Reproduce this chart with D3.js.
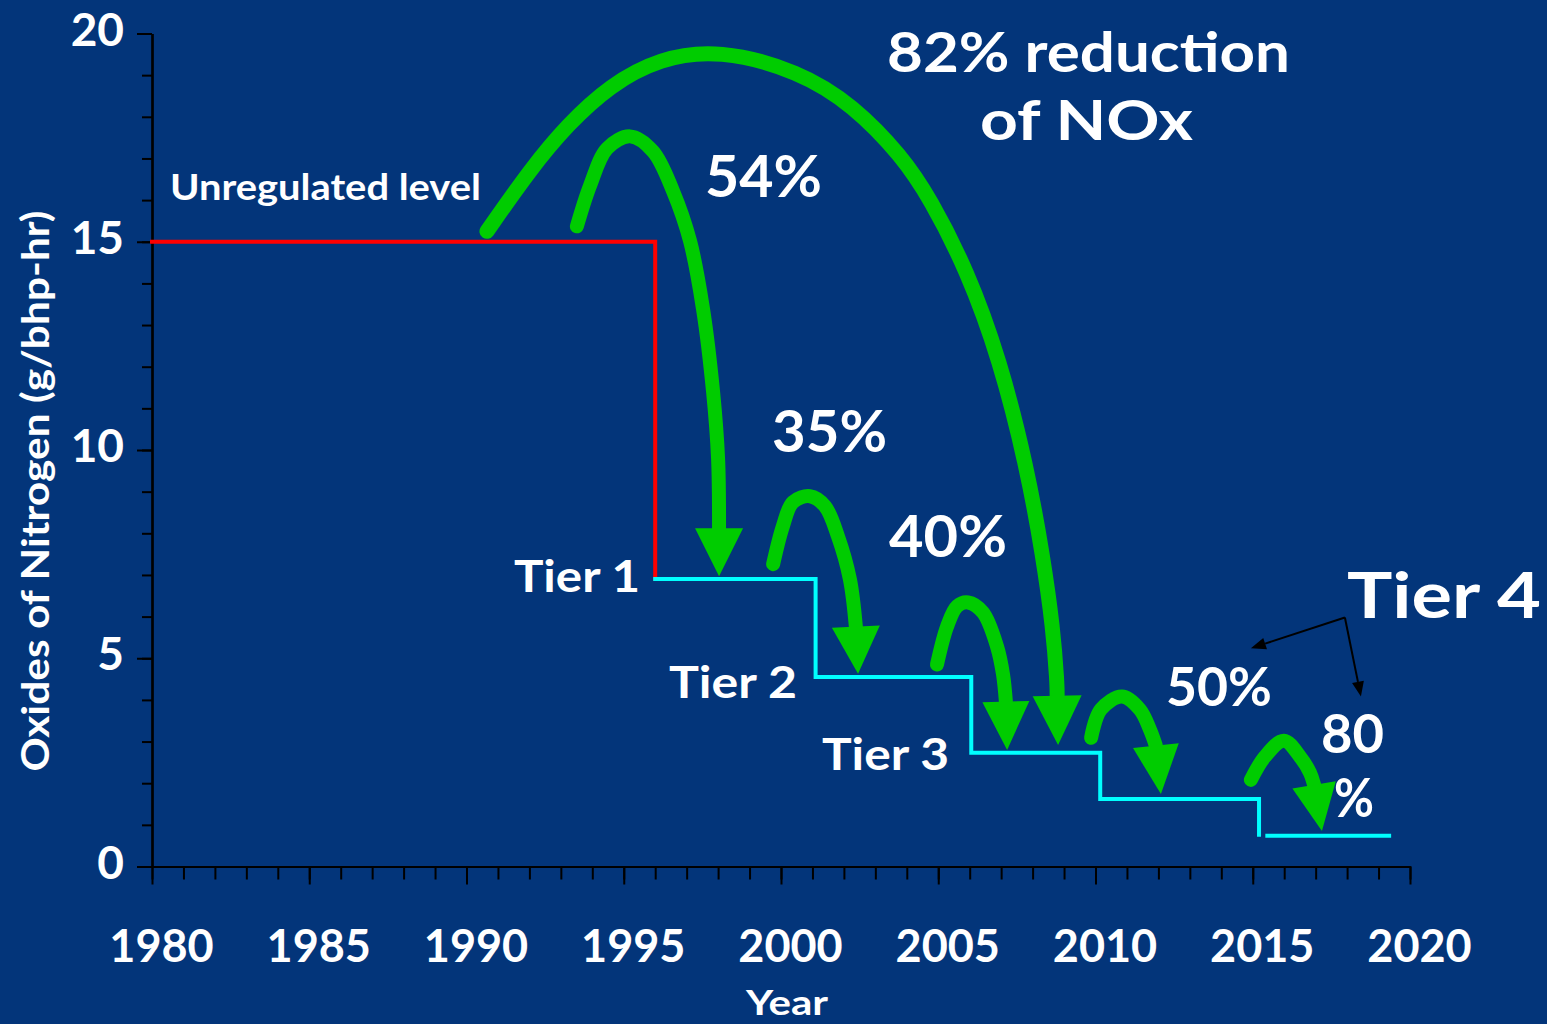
<!DOCTYPE html>
<html>
<head>
<meta charset="utf-8">
<script src="https://cdn.jsdelivr.net/npm/d3@7"></script>
<style>
  html, body { margin: 0; padding: 0; background: #03357a; }
  svg { display: block; }
  text { font-family: "Comic Sans MS", "Lato", "DejaVu Sans", sans-serif; font-weight: 700; fill: #ffffff; }
</style>
</head>
<body>
<svg id="chart" width="1547" height="1024"></svg>
<script>
// ---------- data ----------
const xTickYears = [1980, 1985, 1990, 1995, 2000, 2005, 2010, 2015, 2020];
const xMinorYears = d3.range(1980, 2021, 1);
const yTickValues = [0, 5, 10, 15, 20];
const yMinorValues = d3.range(0, 21, 1);

// unregulated level (red step)
const unregulatedYears = [1980, 1996, 1996];
const unregulatedNOx   = [15, 15, 6.9];

// tier standards (cyan steps)
const tierYears = [1996, 2001.1, 2001.1, 2006.05, 2006.05, 2010.15, 2010.15, 2015.2, 2015.2];
const tierNOx   = [6.9, 6.9, 4.55, 4.55, 2.73, 2.73, 1.62, 1.62, 0.76];
const tier4Years = [2015.4, 2019.4];
const tier4NOx   = [0.74, 0.74];

// green reduction arrows: shaft points (year, NOx) and tip
const arrow82Years = [1990.65, 1992.05, 1993.2, 1994.56, 1996.15, 1998.03, 2000.57, 2002.29, 2003.85, 2004.74, 2005.91, 2006.96, 2007.82, 2008.33, 2008.65, 2008.78, 2008.78];
const arrow82NOx   = [15.25, 16.76, 17.80, 18.76, 19.41, 19.62, 19.10, 18.28, 17.05, 16.04, 14.33, 12.17, 9.59, 7.45, 5.72, 4.40, 4.10];
const arrow82Tip   = [2008.81, 2.92];

const arrow54Years = [1993.51, 1993.93, 1994.47, 1995.2, 1995.93, 1996.57, 1997.11, 1997.52, 1997.84, 1998.0, 1998.03];
const arrow54NOx   = [15.37, 16.35, 17.24, 17.53, 17.17, 16.21, 15.01, 13.39, 11.40, 9.78, 8.12];
const arrow54Tip   = [1998.03, 6.97];

const arrow35Years = [1999.75, 2000.06, 2000.38, 2000.92, 2001.4, 2001.81, 2002.19, 2002.38];
const arrow35NOx   = [7.26, 8.17, 8.75, 8.89, 8.65, 7.93, 6.90, 5.76];
const arrow35Tip   = [2002.45, 4.63];

const arrow40Years = [2004.96, 2005.28, 2005.6, 2005.95, 2006.42, 2006.87, 2007.06, 2007.15];
const arrow40NOx   = [4.85, 5.76, 6.25, 6.34, 6.10, 5.28, 4.61, 3.96];
const arrow40Tip   = [2007.19, 2.80];

const arrow50Years = [2009.86, 2010.17, 2010.84, 2011.41, 2011.73, 2011.92];
const arrow50NOx   = [3.09, 3.77, 4.08, 3.77, 3.29, 2.90];
const arrow50Tip   = [2012.08, 1.74];

const arrow80Years = [2014.94, 2015.39, 2015.99, 2016.5, 2016.82, 2016.95];
const arrow80NOx   = [2.08, 2.64, 3.02, 2.64, 2.25, 1.96];
const arrow80Tip   = [2017.2, 0.85];

// Tier 4 pointer (black arrows), vertex and two tips
const tier4PointerFrom = [2017.93, 5.98];
const tier4PointerTips = [[2014.94, 5.24], [2018.44, 4.08]];

// text labels
const labelTexts = ["Unregulated level", "54%", "82% reduction", "of NOx", "35%", "40%",
                    "Tier 1", "Tier 2", "Tier 3", "Tier 4", "50%", "80", "%"];

// ---------- layout ----------
const labelLayout = [
  {x: 170, y: 200, size: 36, w: 311},
  {x: 705, y: 197, size: 58, w: 117},
  {x: 887, y: 72,  size: 56, w: 403},
  {x: 980, y: 140, size: 56, w: 213},
  {x: 772, y: 452, size: 58, w: 115},
  {x: 889, y: 557, size: 58, w: 118},
  {x: 514, y: 592, size: 44, w: 126},
  {x: 669, y: 698, size: 44, w: 128},
  {x: 822, y: 770, size: 44, w: 127},
  {x: 1347, y: 618, size: 64, w: 194},
  {x: 1166, y: 706, size: 54, w: 106},
  {x: 1321, y: 753, size: 54, w: 63},
  {x: 1334, y: 817, size: 54, w: 40}
];

const svg = d3.select("#chart");
svg.append("rect").attr("width", 1547).attr("height", 1024).attr("fill", "#03357a");

const x = d3.scaleLinear().domain([1980, 2020]).range([152, 1410]);
const y = d3.scaleLinear().domain([0, 20]).range([866.5, 33.5]);

// ---------- axes ----------
const axisColor = "#000000";
const yMinor = svg.append("g").attr("transform", "translate(152,0)")
  .call(d3.axisLeft(y).tickValues(yMinorValues).tickSize(10).tickSizeOuter(0).tickFormat(""));
const yMajor = svg.append("g").attr("transform", "translate(152,0)")
  .call(d3.axisLeft(y).tickValues(yTickValues).tickSize(15).tickSizeOuter(0).tickPadding(13));
const xMinor = svg.append("g").attr("transform", "translate(0,866.5)")
  .call(d3.axisBottom(x).tickValues(xMinorYears).tickSize(13).tickSizeOuter(0).tickFormat(""));
const xMajor = svg.append("g").attr("transform", "translate(0,866.5)")
  .call(d3.axisBottom(x).tickValues(xTickYears).tickSize(18).tickSizeOuter(0).tickFormat(d3.format("d")));

[yMinor, yMajor, xMinor, xMajor].forEach(g => {
  g.selectAll("path.domain").attr("stroke", axisColor).attr("stroke-width", 2.2);
  g.selectAll(".tick line").attr("stroke", axisColor).attr("stroke-width", 2);
});
yMajor.selectAll(".tick text")
  .attr("fill", "#fff").attr("font-size", 46).attr("font-family", null)
  .attr("y", -5).attr("dy", "0.36em");
xMajor.selectAll(".tick text")
  .attr("fill", "#fff").attr("font-size", 45).attr("font-family", null)
  .attr("x", 9).attr("y", 95.5).attr("dy", 0);

// axis titles
svg.append("text")
  .attr("transform", "translate(49,491) rotate(-90)")
  .attr("text-anchor", "middle")
  .attr("font-size", 38)
  .attr("textLength", 561).attr("lengthAdjust", "spacingAndGlyphs")
  .text("Oxides of Nitrogen (g/bhp-hr)");
svg.append("text")
  .attr("x", 787).attr("y", 1015)
  .attr("text-anchor", "middle")
  .attr("font-size", 34)
  .attr("textLength", 82).attr("lengthAdjust", "spacingAndGlyphs")
  .text("Year");

// ---------- step lines ----------
const line = d3.line().x(d => x(d[0])).y(d => y(d[1]));
svg.append("path")
  .attr("d", line(d3.zip(unregulatedYears, unregulatedNOx)))
  .attr("fill", "none").attr("stroke", "#ff0000").attr("stroke-width", 4).attr("stroke-linecap", "square");
svg.append("path")
  .attr("d", line(d3.zip(tierYears, tierNOx)))
  .attr("fill", "none").attr("stroke", "#00ffff").attr("stroke-width", 4).attr("stroke-linecap", "square");
svg.append("path")
  .attr("d", line(d3.zip(tier4Years, tier4NOx)))
  .attr("fill", "none").attr("stroke", "#00ffff").attr("stroke-width", 4);

// ---------- green arrows ----------
const green = "#00cc00";
function drawArrow(years, vals, tip, width, halfHead, curveFactory) {
  const pts = d3.zip(years, vals);
  const gen = d3.line().x(d => x(d[0])).y(d => y(d[1])).curve(curveFactory);
  svg.append("path").attr("d", gen(pts))
    .attr("fill", "none").attr("stroke", green).attr("stroke-width", width)
    .attr("stroke-linecap", "round").attr("stroke-linejoin", "round");
  const b = pts[pts.length - 1];
  const bx = x(b[0]), by = y(b[1]), tx = x(tip[0]), ty = y(tip[1]);
  const dx = tx - bx, dy = ty - by, L = Math.hypot(dx, dy);
  const px = -dy / L, py = dx / L;
  svg.append("path")
    .attr("d", `M${bx + px * halfHead},${by + py * halfHead}L${tx},${ty}L${bx - px * halfHead},${by - py * halfHead}Z`)
    .attr("fill", green);
}
const cr = d3.curveCatmullRom.alpha(0.5);
drawArrow(arrow82Years, arrow82NOx, arrow82Tip, 15, 24.5, d3.curveBasis);
drawArrow(arrow54Years, arrow54NOx, arrow54Tip, 14, 24, cr);
drawArrow(arrow35Years, arrow35NOx, arrow35Tip, 14, 24, cr);
drawArrow(arrow40Years, arrow40NOx, arrow40Tip, 14, 23.5, cr);
drawArrow(arrow50Years, arrow50NOx, arrow50Tip, 14, 23, cr);
drawArrow(arrow80Years, arrow80NOx, arrow80Tip, 14, 22, cr);

// ---------- Tier 4 pointer ----------
tier4PointerTips.forEach(t => {
  const fx = x(tier4PointerFrom[0]), fy = y(tier4PointerFrom[1]);
  const tx = x(t[0]), ty = y(t[1]);
  const dx = tx - fx, dy = ty - fy, L = Math.hypot(dx, dy);
  const ux = dx / L, uy = dy / L, headLen = 15, hw = 6;
  const bx = tx - ux * headLen, by = ty - uy * headLen;
  svg.append("line").attr("x1", fx).attr("y1", fy).attr("x2", bx).attr("y2", by)
    .attr("stroke", "#000").attr("stroke-width", 2);
  svg.append("path")
    .attr("d", `M${bx - uy * hw},${by + ux * hw}L${tx},${ty}L${bx + uy * hw},${by - ux * hw}Z`)
    .attr("fill", "#000");
});

// ---------- labels ----------
labelTexts.forEach((t, i) => {
  const L = labelLayout[i];
  svg.append("text")
    .attr("x", L.x).attr("y", L.y)
    .attr("font-size", L.size)
    .attr("textLength", L.w).attr("lengthAdjust", "spacingAndGlyphs")
    .text(t);
});
</script>
</body>
</html>
